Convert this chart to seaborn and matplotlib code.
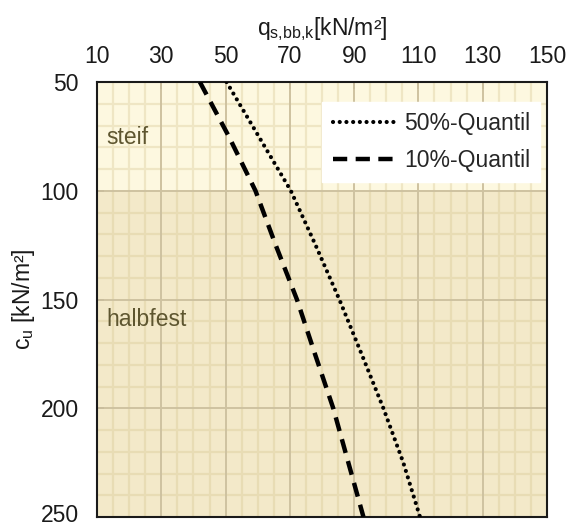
import matplotlib
matplotlib.use("Agg")
import matplotlib.pyplot as plt
import matplotlib.transforms as mtransforms
import numpy as np
import pandas as pd
import seaborn as sns

# Undrained shear strength c_u [kN/m²]
cu = [50, 75, 100, 125, 150, 175, 200, 225, 250]
# Characteristic skin friction q_s,bb,k [kN/m²]
q50 = [50.3, 60.3, 70.3, 78.0, 85.4, 92.3, 99.1, 105.3, 110.5]
q10 = [42.0, 51.0, 59.3, 65.6, 72.2, 77.8, 83.5, 88.2, 92.9]

x_ticks = [10, 30, 50, 70, 90, 110, 130, 150]
y_ticks = [50, 100, 150, 200, 250]
zones = ["steif", "halbfest"]
zone_bounds = [(50, 100), (100, 250)]

sns.set_theme(style="white")
plt.rcParams["font.family"] = ["Liberation Sans", "DejaVu Sans"]
plt.rcParams["mathtext.fontset"] = "custom"
plt.rcParams["mathtext.rm"] = "Liberation Sans"

FS = 16.5

fig = plt.figure(figsize=(5.68, 5.28), dpi=100)
ax = fig.add_axes([0.1708, 0.0208, 0.7922, 0.8239])

zone_colors = ["#FDF8E0", "#F3E9C9"]
minor_colors = ["#EFE6C4", "#E8DCB4"]
for (y0, y1), fc in zip(zone_bounds, zone_colors):
    ax.axhspan(y0, y1, color=fc, lw=0, zorder=0)

# Fine grid: every 5 kN/m² in q, every 10 kN/m² in c_u
for xv in np.arange(10, 151, 5):
    if xv in x_ticks:
        continue
    for (y0, y1), gc in zip(zone_bounds, minor_colors):
        ax.plot([xv, xv], [y0, y1], color=gc, lw=1.6, zorder=1)
for yv in np.arange(50, 251, 10):
    if yv in y_ticks:
        continue
    gc = minor_colors[0] if yv < 100 else minor_colors[1]
    ax.axhline(yv, color=gc, lw=1.6, zorder=1)
# Major grid
for xv in x_ticks[1:-1]:
    ax.axvline(xv, color="#CEC2A0", lw=1.4, zorder=2)
for yv in y_ticks[1:-1]:
    ax.axhline(yv, color="#CEC2A0", lw=1.4, zorder=2)

df50 = pd.DataFrame({"cu": cu, "q": q50})
df10 = pd.DataFrame({"cu": cu, "q": q10})
sns.lineplot(data=df50, x="q", y="cu", ax=ax, sort=False, color="black",
             lw=3.0, linestyle=(0, (0.01, 1.6)), dash_capstyle="round",
             label="50%-Quantil", zorder=5)
sns.lineplot(data=df10, x="q", y="cu", ax=ax, sort=False, color="black",
             lw=3.2, linestyle=(0, (3.2, 1.9)), dash_capstyle="butt",
             label="10%-Quantil", zorder=5)

ax.set_xlim(10, 150)
ax.set_ylim(250, 50)
ax.xaxis.tick_top()
ax.xaxis.set_label_position("top")
ax.set_xticks(x_ticks)
ax.set_yticks(y_ticks)
ax.tick_params(axis="both", direction="in", length=5, width=1.2, color="black",
               labelsize=FS, labelcolor="#1a1a1a")
ax.tick_params(axis="x", top=True, bottom=False, pad=10)
ax.tick_params(axis="y", left=True, right=False, pad=13)
ax.set_xlabel(r"q$_{\mathregular{s{,}bb{,}k}}$[kN/m²]", fontsize=FS, labelpad=7, color="#1a1a1a")
ax.set_ylabel(r"c$_{\mathregular{u}}$ [kN/m²]", fontsize=FS, labelpad=3, color="#1a1a1a")

# keep the lowest c_u label inside the canvas
fig.canvas.draw()
last = ax.get_yticklabels()[-1]
last.set_transform(last.get_transform() +
                   mtransforms.ScaledTranslation(0, 3 / 72, fig.dpi_scale_trans))

for sp in ax.spines.values():
    sp.set_visible(True)
    sp.set_color("#1a1a1a")
    sp.set_linewidth(1.5)

ax.text(13, 75.5, zones[0], fontsize=FS, color="#5E5630", va="center", ha="left", zorder=6)
ax.text(13, 159, zones[1], fontsize=FS, color="#5E5630", va="center", ha="left", zorder=6)

leg = ax.legend(loc="upper right", bbox_to_anchor=(0.985, 0.955), fontsize=FS,
                frameon=True, fancybox=False, handlelength=2.8, handletextpad=0.3,
                borderpad=0.45, labelspacing=0.6, borderaxespad=0.0)
leg.get_frame().set_facecolor("white")
leg.get_frame().set_edgecolor("white")
leg.get_frame().set_alpha(1.0)
leg.set_zorder(10)

fig.savefig("out.png", dpi=100)
